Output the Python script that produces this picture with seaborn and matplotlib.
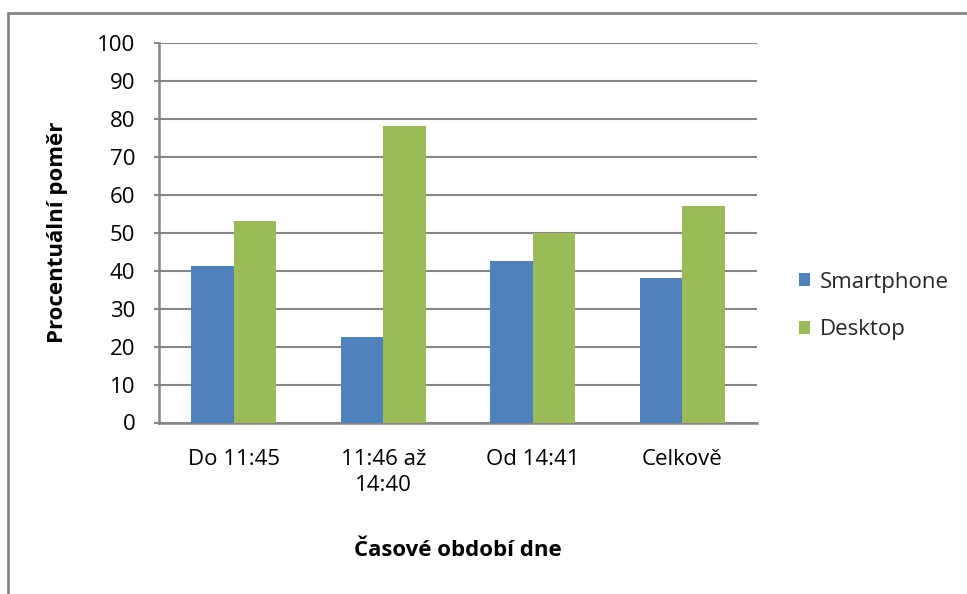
import matplotlib
matplotlib.use("Agg")
import matplotlib.pyplot as plt
from matplotlib.lines import Line2D
from matplotlib.patches import Patch
import seaborn as sns
import pandas as pd

categories = ["Do 11:45", "11:46 až\n14:40", "Od 14:41", "Celkově"]
smartphone = [41.3, 22.4, 42.6, 38.1]
desktop = [53.2, 78.0, 50.0, 57.0]
series = ["Smartphone", "Desktop"]
colors = ["#4F81BD", "#9BBB59"]
y_ticks = list(range(0, 101, 10))

df = pd.DataFrame({
    "kategorie": categories * 2,
    "hodnota": smartphone + desktop,
    "zařízení": [series[0]] * 4 + [series[1]] * 4,
})

sns.set_theme(style="white")
plt.rcParams["font.family"] = ["Open Sans", "DejaVu Sans"]

W, H = 967, 594
FS = 16
fig = plt.figure(figsize=(W / 100, H / 100), dpi=100)
x0, x1, y0, y1 = 159, 757, 422.5, 43
ax = fig.add_axes([x0 / W, 1 - y0 / H, (x1 - x0) / W, (y0 - y1) / H])

grid_c = "#868686"
sns.barplot(data=df, x="kategorie", y="hodnota", hue="zařízení",
            palette=colors, width=0.57, saturation=1, ax=ax,
            legend=False, zorder=3)
for b in ax.patches:
    b.set_edgecolor("none")

ax.set_ylim(0, 100)
ax.set_xlim(-0.5, 3.5)
ax.set_yticks(y_ticks)
ax.set_yticklabels([str(t) for t in y_ticks], fontsize=FS, color="black")
ax.tick_params(axis="y", which="major", length=3.6, width=1.5, color=grid_c,
               direction="out", pad=13.5, left=True)
ax.tick_params(axis="x", length=0, pad=19, labelsize=FS, labelcolor="black")
for lbl in ax.get_xticklabels():
    lbl.set_linespacing(1.35)
ax.yaxis.grid(True, color=grid_c, linewidth=1.5, zorder=0)
ax.set_axisbelow(True)
for s in ["top", "right"]:
    ax.spines[s].set_visible(False)
for s in ["left", "bottom"]:
    ax.spines[s].set_color(grid_c)
    ax.spines[s].set_linewidth(1.8)

ax.set_xlabel("Časové období dne", fontsize=FS, fontweight="bold",
              color="black", va="center")
ax.set_ylabel("Procentuální poměr", fontsize=FS, fontweight="bold",
              color="black", va="center")
ax.xaxis.set_label_coords(0.5, (y0 - 551) / (y0 - y1))
ax.yaxis.set_label_coords((57 - x0) / (x1 - x0), 0.5)

handles = [Patch(facecolor=c, edgecolor="none", label=s) for c, s in zip(colors, series)]
fig.legend(handles=handles, loc="center left",
           bbox_to_anchor=(799 / W, 1 - 306 / H), frameon=False,
           fontsize=FS, handlelength=0.5, handleheight=0.5,
           handletextpad=0.45, labelspacing=1.2, borderpad=0, borderaxespad=0)

# chart frame
fig.add_artist(Line2D([8 / W, 1.0], [1 - 13 / H, 1 - 13 / H],
                      transform=fig.transFigure, color=grid_c, linewidth=2))
fig.add_artist(Line2D([8 / W, 8 / W], [0.0, 1 - 13 / H],
                      transform=fig.transFigure, color=grid_c, linewidth=2))

fig.savefig("out.png", dpi=100, facecolor="white")
